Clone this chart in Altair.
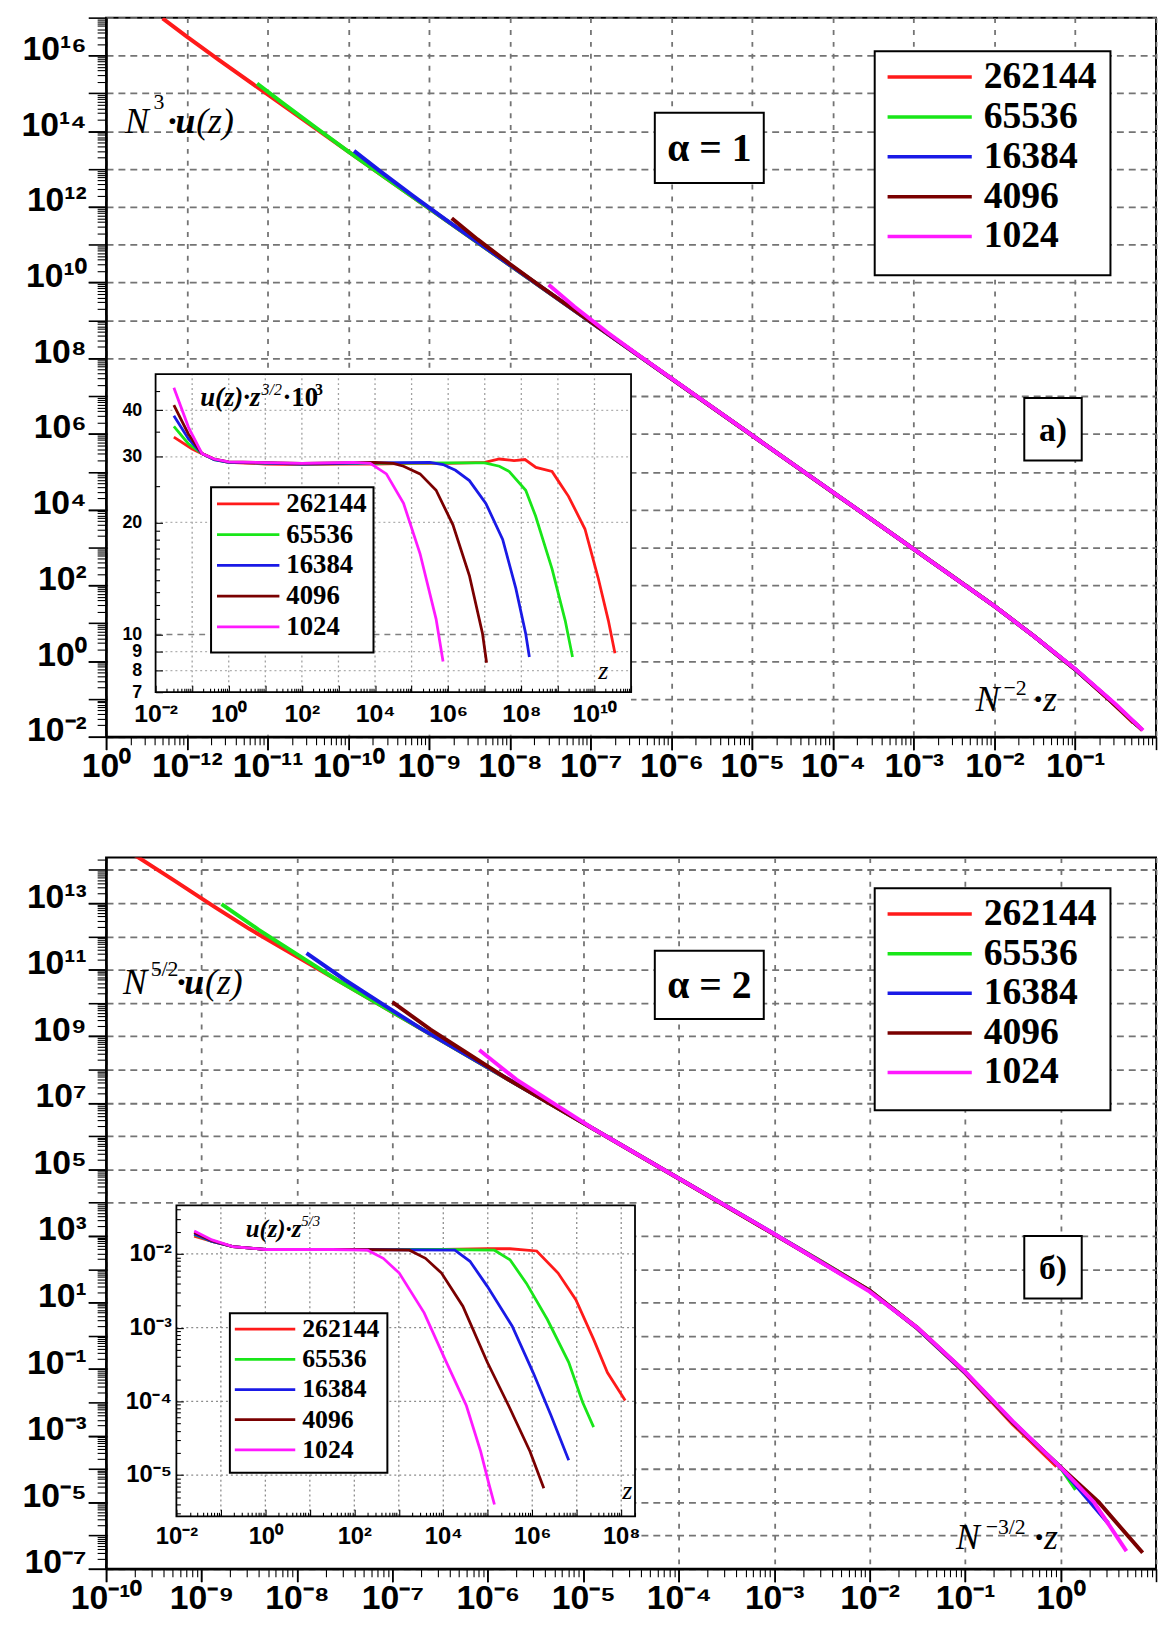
import altair as alt
import pandas as pd

# ------------------------------------------------------------------ data
NS = ["262144", "65536", "16384", "4096", "1024"]
COLORS = ["#ff1a1a", "#19e619", "#1a1ae6", "#7a0000", "#ff19ff"]

# panel a, main plot: log10(N^-2 z) , log10(N^3 u(z))
A_MAIN_LOGX = {
    "262144": [-12.30, -12.0, -11.6, -11.0, -10.0, -8.0, -6.0, -4.0, -2.5, -2.0, -1.5, -1.0, -0.6, -0.28],
    "65536": [-11.13, -10.8, -10.4, -10.0, -8.0, -6.0, -4.0, -2.5, -2.0, -1.5, -1.0, -0.6, -0.23],
    "16384": [-9.93, -9.6, -9.2, -8.8, -7.0, -5.0, -3.0, -2.0, -1.5, -1.0, -0.6, -0.21],
    "4096": [-8.72, -8.4, -8.0, -7.6, -6.0, -4.0, -2.0, -1.5, -1.0, -0.6, -0.17],
    "1024": [-7.52, -7.2, -6.8, -6.4, -5.0, -3.0, -2.0, -1.5, -1.0, -0.5, -0.16],
}
A_MAIN_LOGY = {
    "262144": [16.98, 16.50, 15.88, 14.97, 13.46, 10.46, 7.46, 4.46, 2.21, 1.45, 0.64, -0.22, -0.98, -1.63],
    "65536": [15.26, 14.72, 14.09, 13.46, 10.46, 7.46, 4.46, 2.21, 1.45, 0.64, -0.22, -0.97, -1.71],
    "16384": [13.48, 12.93, 12.29, 11.67, 8.96, 5.96, 2.96, 1.45, 0.64, -0.22, -0.97, -1.74],
    "4096": [11.70, 11.14, 10.49, 9.87, 7.46, 4.46, 1.45, 0.64, -0.22, -0.98, -1.82],
    "1024": [9.94, 9.36, 8.69, 8.07, 5.96, 2.96, 1.45, 0.64, -0.21, -1.14, -1.83],
}
# panel a, inset: log10 z , u(z) z^{3/2} 10^3
A_IN_LOGZ = {
    "262144": [-1.5, -1.0, -0.73, -0.4, 0.0, 1.0, 2.0, 3.0, 4.0, 5.0, 6.0, 7.0, 7.4, 7.8, 8.1, 8.4, 8.84, 9.05, 9.29, 9.74, 10.1, 10.38, 10.56],
    "65536": [-1.5, -1.1, -0.73, -0.4, 0.0, 2.0, 4.0, 6.0, 7.0, 7.4, 7.67, 8.12, 8.39, 8.84, 9.2, 9.4],
    "16384": [-1.5, -1.1, -0.73, -0.4, 0.0, 2.0, 4.0, 5.5, 5.86, 6.2, 6.58, 7.03, 7.49, 7.85, 8.12, 8.22],
    "4096": [-1.5, -1.1, -0.73, -0.4, 0.0, 2.0, 4.0, 4.5, 4.78, 5.23, 5.67, 6.13, 6.58, 6.94, 7.05],
    "1024": [-1.5, -1.1, -0.73, -0.4, 0.0, 2.0, 3.4, 3.87, 4.31, 4.78, 5.23, 5.67, 5.86],
}
A_IN_VAL = {
    "262144": [33.9, 31.5, 30.6, 29.6, 29.0, 28.7, 28.6, 28.7, 28.7, 28.8, 28.8, 29.0, 29.6, 29.3, 29.5, 28.1, 27.4, 25.5, 23.5, 19.2, 14.2, 10.9, 8.9],
    "65536": [36.2, 32.5, 30.6, 29.5, 29.0, 28.7, 28.8, 28.9, 28.9, 28.3, 27.4, 24.4, 20.8, 15.0, 10.9, 8.7],
    "16384": [38.7, 33.5, 30.6, 29.5, 29.0, 28.7, 28.9, 29.0, 28.6, 27.6, 25.9, 22.5, 18.0, 13.3, 10.05, 8.7],
    "4096": [41.3, 34.5, 30.6, 29.6, 29.1, 28.8, 29.0, 28.8, 28.3, 27.0, 24.4, 19.7, 14.4, 10.05, 8.4],
    "1024": [46.0, 36.0, 30.6, 29.6, 29.1, 28.8, 29.0, 28.8, 27.0, 22.5, 16.5, 11.0, 8.46],
}
# panel b, main plot: log10(N^-3/2 z) , log10(N^5/2 u(z))
B_MAIN_LOGX = {
    "262144": [-9.73, -9.3, -8.86, -8.5, -6.0, -4.0, -2.5, -2.0, -1.5, -1.0, -0.5, -0.04],
    "65536": [-8.79, -8.4, -7.95, -7.6, -6.0, -4.0, -2.5, -2.0, -1.5, -1.0, -0.5, 0.0, 0.16],
    "16384": [-7.90, -7.5, -7.05, -6.7, -5.0, -3.0, -2.0, -1.5, -1.0, -0.5, 0.0, 0.5],
    "4096": [-7.00, -6.6, -6.15, -5.8, -4.0, -2.0, -1.5, -1.0, -0.5, 0.0, 0.4, 0.86],
    "1024": [-6.09, -5.7, -5.25, -4.9, -3.0, -2.0, -1.5, -1.0, -0.5, 0.0, 0.35, 0.69],
}
B_MAIN_LOGY = {
    "262144": [14.50, 13.71, 12.88, 12.23, 8.06, 4.73, 2.22, 1.36, 0.22, -1.12, -2.65, -3.92],
    "65536": [12.97, 12.20, 11.37, 10.73, 8.06, 4.73, 2.22, 1.36, 0.23, -1.10, -2.60, -3.95, -4.62],
    "16384": [11.50, 10.70, 9.87, 9.23, 6.40, 3.06, 1.35, 0.23, -1.10, -2.60, -3.95, -5.63],
    "4096": [10.03, 9.20, 8.37, 7.73, 4.73, 1.36, 0.24, -1.09, -2.60, -3.95, -5.00, -6.52],
    "1024": [8.59, 7.70, 6.87, 6.23, 3.06, 1.33, 0.24, -1.08, -2.57, -3.95, -5.00, -6.47],
}
# panel b, inset: log10 z , log10( u(z) z^{5/3} )
B_IN_LOGZ = {
    "262144": [-1.6, -1.2, -0.73, 0.0, 2.0, 4.0, 5.0, 5.5, 6.1, 6.58, 6.98, 7.38, 7.69, 8.09],
    "65536": [-1.6, -1.2, -0.73, 0.0, 2.0, 4.0, 5.15, 5.5, 5.87, 6.34, 6.82, 7.13, 7.38],
    "16384": [-1.6, -1.2, -0.73, 0.0, 2.0, 4.26, 4.6, 4.99, 5.55, 6.02, 6.42, 6.82],
    "4096": [-1.6, -1.2, -0.73, 0.0, 2.0, 3.24, 3.6, 3.96, 4.44, 4.99, 5.47, 5.95, 6.26],
    "1024": [-1.6, -1.2, -0.73, 0.0, 1.5, 2.30, 2.65, 3.01, 3.57, 4.04, 4.52, 4.84, 5.03, 5.15],
}
B_IN_LOGV = {
    "262144": [-1.76, -1.83, -1.90, -1.94, -1.94, -1.94, -1.93, -1.93, -1.96, -2.26, -2.62, -3.16, -3.61, -3.99],
    "65536": [-1.74, -1.83, -1.90, -1.94, -1.94, -1.94, -1.95, -2.08, -2.40, -2.89, -3.47, -4.01, -4.35],
    "16384": [-1.73, -1.83, -1.90, -1.94, -1.94, -1.95, -2.10, -2.44, -2.98, -3.61, -4.19, -4.80],
    "4096": [-1.71, -1.82, -1.90, -1.94, -1.94, -1.95, -2.06, -2.26, -2.71, -3.47, -4.06, -4.68, -5.18],
    "1024": [-1.69, -1.81, -1.90, -1.94, -1.94, -1.95, -2.06, -2.26, -2.80, -3.43, -4.06, -4.68, -5.13, -5.40],
}

# tick labels
A_X_EXP = [-13, -12, -11, -10, -9, -8, -7, -6, -5, -4, -3, -2, -1]
A_X_LABELS = ["10⁰", "10⁻¹²", "10⁻¹¹", "10⁻¹⁰", "10⁻⁹", "10⁻⁸", "10⁻⁷", "10⁻⁶", "10⁻⁵", "10⁻⁴", "10⁻³", "10⁻²", "10⁻¹"]
A_Y_EXP = [-2, 0, 2, 4, 6, 8, 10, 12, 14, 16]
A_Y_LABELS = ["10⁻²", "10⁰", "10²", "10⁴", "10⁶", "10⁸", "10¹⁰", "10¹²", "10¹⁴", "10¹⁶"]
B_X_EXP = [-10, -9, -8, -7, -6, -5, -4, -3, -2, -1, 0]
B_X_LABELS = ["10⁻¹⁰", "10⁻⁹", "10⁻⁸", "10⁻⁷", "10⁻⁶", "10⁻⁵", "10⁻⁴", "10⁻³", "10⁻²", "10⁻¹", "10⁰"]
B_Y_EXP = [-7, -5, -3, -1, 1, 3, 5, 7, 9, 11, 13]
B_Y_LABELS = ["10⁻⁷", "10⁻⁵", "10⁻³", "10⁻¹", "10¹", "10³", "10⁵", "10⁷", "10⁹", "10¹¹", "10¹³"]
AI_X_EXP = [-2, 0, 2, 4, 6, 8, 10]
AI_X_LABELS = ["10⁻²", "10⁰", "10²", "10⁴", "10⁶", "10⁸", "10¹⁰"]
AI_Y_VALUES = [7, 8, 9, 10, 20, 30, 40]
AI_Y_LABELS = ["7", "8", "9", "10", "20", "30", "40"]
BI_X_EXP = [-2, 0, 2, 4, 6, 8]
BI_X_LABELS = ["10⁻²", "10⁰", "10²", "10⁴", "10⁶", "10⁸"]
BI_Y_EXP = [-5, -4, -3, -2]
BI_Y_LABELS = ["10⁻⁵", "10⁻⁴", "10⁻³", "10⁻²"]

# ------------------------------------------------------------------ layout / style
SANS = "Liberation Sans"
SERIF = "Liberation Serif"
W = 1060
HA = 726
HB = 718
A_XDOM = [1e-13, 1e0]
A_YDOM = [1e-2, 1e17]
B_XDOM = [1e-10, 1e1]
B_YDOM = [1e-7, 10 ** 14.37]
AI_XDOM = [1e-2, 1e11]
AI_YDOM = [7, 50]
BI_XDOM = [1e-2, 10 ** 8.31]
BI_YDOM = [10 ** -5.56, 10 ** -1.34]
AI_XR = [50, 530]
AI_YR = [681, 360]
BI_XR = [71, 534]
BI_YR = [665, 351]
GRID = "#747474"

ONE = pd.DataFrame({"a": [0]})


def exp_expr(exps, labels):
    s = "''"
    for e, l in zip(exps, labels):
        s = f"(abs(log(datum.value)/LN10 - ({e})) < 0.01) ? '{l}' : ({s})"
    return s


def val_expr(vals, labels):
    s = "''"
    for v, l in zip(vals, labels):
        s = f"(abs(datum.value - {v}) < 0.001) ? '{l}' : ({s})"
    return s


def logscale(dom, rng=None):
    if rng is None:
        return alt.Scale(type="log", domain=list(dom), nice=False)
    return alt.Scale(type="log", domain=list(dom), nice=False, range=list(rng))


def decades(lo, hi):
    return [10.0 ** e for e in range(lo, hi + 1)]


def minors(lo, hi, dom):
    out = []
    for e in range(lo, hi + 1):
        for k in range(2, 10):
            v = k * 10.0 ** e
            if dom[0] < v < dom[1]:
                out.append(v)
    return out


def label_axis(orient, exps, labels):
    common = dict(orient=orient, values=[10.0 ** e for e in exps], labelExpr=exp_expr(exps, labels),
                  title=None, grid=False, domainColor="black", domainWidth=2.5,
                  tickColor="black", tickWidth=1.6,
                  labelFont=SANS, labelFontWeight="bold", labelFontSize=34, labelColor="black",
                  labelOverlap=False, labelFlush=False, labelBound=False)
    if orient == "bottom":
        return alt.Axis(tickSize=13, labelPadding=0, labelAlign="center", labelBaseline="top", **common)
    return alt.Axis(tickSize=18, labelPadding=2, labelAlign="right", labelBaseline="alphabetic",
                    labelOffset=4, **common)


def plain_axis(orient, values, size, offset=0, zindex=0, grid=False, dash=None, width=1.1):
    kw = dict(orient=orient, values=values, labels=False, domain=False,
              ticks=True, tickSize=size, tickWidth=width, tickColor="black",
              title=None, offset=offset, zindex=zindex, minExtent=0, maxExtent=0)
    if grid:
        kw.update(grid=True, gridColor=GRID, gridDash=dash, gridWidth=1.8)
    else:
        kw.update(grid=False)
    return alt.Axis(**kw)


def curve_layers(xd, yd, xs, ys, width, xaxis=None, yaxis=None):
    out = []
    for i, n in enumerate(NS):
        df = pd.DataFrame({"x": xd[n], "y": yd[n]})
        out.append(
            alt.Chart(df).mark_line(color=COLORS[i], strokeWidth=width, clip=True).encode(
                x=alt.X("x:Q", scale=xs, axis=xaxis if i == 0 else None),
                y=alt.Y("y:Q", scale=ys, axis=yaxis if i == 0 else None),
            )
        )
    return out


def axis_only(xs, ys, xaxis, yaxis, xv, yv):
    df = pd.DataFrame({"x": [xv], "y": [yv]})
    return alt.Chart(df).mark_point(opacity=0, size=1).encode(
        x=alt.X("x:Q", scale=xs, axis=xaxis),
        y=alt.Y("y:Q", scale=ys, axis=yaxis),
    )


def box(x0, x1, y0, y1, sw=2.0, stroke="black"):
    return alt.Chart(ONE).mark_rect(fill="white", stroke=stroke, strokeWidth=sw).encode(
        x=alt.value(x0), x2=alt.value(x1), y=alt.value(y0), y2=alt.value(y1))


def txt(s, x, y, size, style="normal", weight="normal", font=SERIF, align="left", baseline="alphabetic"):
    return alt.Chart(ONE).mark_text(text=s, font=font, fontSize=size, fontStyle=style,
                                    fontWeight=weight, align=align, baseline=baseline,
                                    color="black").encode(x=alt.value(x), y=alt.value(y))


def legend_layers(bx, line_x, label_x, rows, fsize, sw):
    df = pd.DataFrame({"N": NS})
    ysc = alt.Scale(type="point", domain=NS, range=[rows[0], rows[1]], padding=0)
    lines = alt.Chart(df).mark_rule(strokeWidth=sw).encode(
        x=alt.value(line_x[0]), x2=alt.value(line_x[1]),
        y=alt.Y("N:N", scale=ysc, axis=None),
        color=alt.Color("N:N", scale=alt.Scale(domain=NS, range=COLORS), legend=None))
    labels = alt.Chart(df).mark_text(align="left", baseline="middle", font=SERIF, fontWeight="bold",
                                     fontSize=fsize, color="black").encode(
        x=alt.value(label_x), y=alt.Y("N:N", scale=ysc, axis=None), text="N:N")
    return [box(*bx), lines, labels]


def rules(vals, lo, hi, xs, ys, color, dash, width, vertical=True):
    df = pd.DataFrame({"v": vals, "lo": [lo] * len(vals), "hi": [hi] * len(vals)})
    ch = alt.Chart(df).mark_rule(color=color, strokeDash=dash, strokeWidth=width)
    if vertical:
        return ch.encode(x=alt.X("v:Q", scale=xs, axis=None), y=alt.Y("lo:Q", scale=ys, axis=None), y2="hi:Q")
    return ch.encode(y=alt.Y("v:Q", scale=ys, axis=None), x=alt.X("lo:Q", scale=xs, axis=None), x2="hi:Q")


def frame(xdom, ydom, xs, ys):
    df = pd.DataFrame({"x0": [xdom[0]], "x1": [xdom[1]], "y0": [ydom[0]], "y1": [ydom[1]]})
    return alt.Chart(df).mark_rect(fill="white", fillOpacity=0, stroke="black", strokeWidth=1.8).encode(
        x=alt.X("x0:Q", scale=xs, axis=None), x2="x1:Q",
        y=alt.Y("y0:Q", scale=ys, axis=None), y2="y1:Q")


def inset_label_axes(xr, yr, H, xvals, xexpr, yvals, yexpr, xfs, yfs, xpad, ypad):
    xa = alt.Axis(orient="bottom", offset=-(H - yr[0]), values=xvals, labelExpr=xexpr, title=None,
                  grid=False, domain=False, ticks=False, tickSize=0, labelFont=SANS,
                  labelFontWeight="bold", labelFontSize=xfs, labelColor="black", labelPadding=xpad,
                  labelOverlap=False, labelFlush=False, labelBound=False, labelBaseline="top", zindex=2,
                  minExtent=0, maxExtent=0)
    ya = alt.Axis(orient="left", offset=-xr[0], values=yvals, labelExpr=yexpr, title=None,
                  grid=False, domain=False, ticks=False, tickSize=0, labelFont=SANS,
                  labelFontWeight="bold", labelFontSize=yfs, labelColor="black", labelPadding=ypad,
                  labelOverlap=False, labelFlush=False, labelBound=False, labelAlign="right",
                  labelBaseline="middle", zindex=2, minExtent=0, maxExtent=0)
    return xa, ya


def inward_ticks(xs, ys, xr, yr, H, xvals, yvals, size, xv, yv):
    # bottom axis lifted by `size` so its ticks hang down onto the inset's bottom edge,
    # left axis pushed right by `size` so its ticks reach back to the inset's left edge
    xa = plain_axis("bottom", xvals, size, offset=-(H - yr[0] + size), zindex=2)
    ya = plain_axis("left", yvals, size, offset=-(xr[0] + size), zindex=2)
    return axis_only(xs, ys, xa, ya, xv, yv)


# ------------------------------------------------------------------ panel a
axs = logscale(A_XDOM)
ays = logscale(A_YDOM)
aix = logscale(AI_XDOM, AI_XR)
aiy = logscale(AI_YDOM, AI_YR)

la = []
la += curve_layers({n: [10 ** v for v in A_MAIN_LOGX[n]] for n in NS},
                   {n: [10 ** v for v in A_MAIN_LOGY[n]] for n in NS}, axs, ays, 4,
                   label_axis("bottom", A_X_EXP, A_X_LABELS), label_axis("left", A_Y_EXP, A_Y_LABELS))
la.append(axis_only(axs, ays, plain_axis("bottom", decades(-13, 0), 13, grid=True, dash=[5, 7], width=1.6),
                    plain_axis("left", decades(-2, 17), 18, grid=True, dash=[7, 5], width=1.6), 1e-6, 1e5))
la.append(axis_only(axs, ays, plain_axis("bottom", minors(-13, -1, A_XDOM), 8),
                    plain_axis("left", minors(-2, 16, A_YDOM), 9), 1e-6, 1e5))
la.append(box(2, AI_XR[1], AI_YR[1], HA - 2, sw=0, stroke="white"))
la.append(rules(decades(-1, 10), AI_YDOM[0], AI_YDOM[1], aix, aiy, "#a0a0a0", [2, 3], 1.3))
la.append(rules([8, 9, 20, 30, 40], AI_XDOM[0], AI_XDOM[1], aix, aiy, "#b0b0b0", [2, 3], 1.2, vertical=False))
la.append(rules([10], AI_XDOM[0], AI_XDOM[1], aix, aiy, "#808080", [6, 5], 1.6, vertical=False))
la += curve_layers({n: [10 ** v for v in A_IN_LOGZ[n]] for n in NS}, A_IN_VAL, aix, aiy, 2.8)
la.append(frame(AI_XDOM, AI_YDOM, aix, aiy))
xa, ya = inset_label_axes(AI_XR, AI_YR, HA, decades(-2, 10), exp_expr(AI_X_EXP, AI_X_LABELS),
                          AI_Y_VALUES, val_expr(AI_Y_VALUES, AI_Y_LABELS), 25, 18, 10, 14)
la.append(axis_only(aix, aiy, xa, ya, 1.0, 20.0))
la.append(inward_ticks(aix, aiy, AI_XR, AI_YR, HA, decades(-2, 11), AI_Y_VALUES, 7, 1.0, 20.0))
la.append(inward_ticks(aix, aiy, AI_XR, AI_YR, HA, minors(-2, 10, AI_XDOM),
                       [11, 12, 13, 14, 15, 16, 17, 18, 19, 25, 35, 45], 4, 1.0, 20.0))
la += legend_layers((776, 1014, 34, 260), (789, 874), 886, (60, 221), 38, 3.6)
la += legend_layers((106, 270, 474, 641), (112, 175), 182, (491, 615), 27, 2.8)
la.append(box(554, 664, 96, 167))
la.append(txt("α = 1", 609, 133, 40, weight="bold", align="center", baseline="middle"))
la.append(box(927, 985, 384, 447))
la.append(txt("а)", 956, 417, 34, weight="bold", align="center", baseline="middle"))
la += [txt("N", 19, 116, 36, style="italic"), txt("3", 48, 92, 22), txt("·", 61, 116, 36, weight="bold"),
       txt("u", 70, 116, 36, style="italic", weight="bold"), txt("(z)", 91, 116, 36, style="italic")]
la += [txt("N", 878, 700, 36, style="italic"), txt("−2", 906, 684, 22), txt("·", 935, 700, 36, weight="bold"),
       txt("z", 946, 700, 36, style="italic")]
la += [txt("u(z)·z", 95, 392, 27, style="italic", weight="bold"), txt("3/2", 157, 381, 16, style="italic"),
       txt("·10", 178, 392, 27, weight="bold"), txt("3", 211, 381, 16, weight="bold")]
la.append(txt("z", 497, 668, 26, style="italic"))

panel_a = alt.layer(*la).resolve_scale(x="independent", y="independent").properties(width=W, height=HA)

# ------------------------------------------------------------------ panel b
bxs = logscale(B_XDOM)
bys = logscale(B_YDOM)
bix = logscale(BI_XDOM, BI_XR)
biy = logscale(BI_YDOM, BI_YR)

lb = []
lb += curve_layers({n: [10 ** v for v in B_MAIN_LOGX[n]] for n in NS},
                   {n: [10 ** v for v in B_MAIN_LOGY[n]] for n in NS}, bxs, bys, 4,
                   label_axis("bottom", B_X_EXP, B_X_LABELS), label_axis("left", B_Y_EXP, B_Y_LABELS))
lb.append(axis_only(bxs, bys, plain_axis("bottom", decades(-10, 1), 13, grid=True, dash=[5, 7], width=1.6),
                    plain_axis("left", decades(-7, 14), 18, grid=True, dash=[7, 5], width=1.6), 1e-5, 1e5))
lb.append(axis_only(bxs, bys, plain_axis("bottom", minors(-10, 0, B_XDOM), 8),
                    plain_axis("left", minors(-7, 14, B_YDOM), 9), 1e-5, 1e5))
lb.append(box(2, BI_XR[1], BI_YR[1], HB - 2, sw=0, stroke="white"))
lb.append(rules(decades(-1, 8), BI_YDOM[0], BI_YDOM[1], bix, biy, "#8c8c8c", [2, 3], 1.3))
lb.append(rules(decades(-5, -2), BI_XDOM[0], BI_XDOM[1], bix, biy, "#8c8c8c", [2, 3], 1.3, vertical=False))
lb += curve_layers({n: [10 ** v for v in B_IN_LOGZ[n]] for n in NS},
                   {n: [10 ** v for v in B_IN_LOGV[n]] for n in NS}, bix, biy, 2.8)
lb.append(frame(BI_XDOM, BI_YDOM, bix, biy))
xb, yb = inset_label_axes(BI_XR, BI_YR, HB, decades(-2, 8), exp_expr(BI_X_EXP, BI_X_LABELS),
                          decades(-5, -2), exp_expr(BI_Y_EXP, BI_Y_LABELS), 24, 24, 8, 5)
lb.append(axis_only(bix, biy, xb, yb, 1.0, 1e-3))
lb.append(inward_ticks(bix, biy, BI_XR, BI_YR, HB, decades(-2, 8), decades(-5, -2), 7, 1.0, 1e-3))
lb.append(inward_ticks(bix, biy, BI_XR, BI_YR, HB, minors(-2, 8, BI_XDOM), minors(-6, -2, BI_YDOM), 4, 1.0, 1e-3))
lb += legend_layers((776, 1014, 31, 255), (789, 874), 886, (57, 217), 38, 3.6)
lb += legend_layers((125, 284, 460, 621), (130, 191), 198, (476, 598), 26, 2.8)
lb.append(box(554, 664, 94, 163))
lb.append(txt("α = 2", 609, 130, 40, weight="bold", align="center", baseline="middle"))
lb.append(box(927, 985, 382, 445))
lb.append(txt("б)", 956, 415, 34, weight="bold", align="center", baseline="middle"))
lb += [txt("N", 17, 138, 36, style="italic"), txt("5/2", 45, 120, 22), txt("·", 70, 138, 36, weight="bold"),
       txt("u", 79, 138, 36, style="italic", weight="bold"), txt("(z)", 100, 138, 36, style="italic")]
lb += [txt("N", 858, 698, 36, style="italic"), txt("−3/2", 888, 683, 22), txt("·", 936, 698, 36, weight="bold"),
       txt("z", 947, 698, 36, style="italic")]
lb += [txt("u(z)·z", 141, 383, 25, style="italic", weight="bold"), txt("5/3", 197, 372, 15, style="italic")]
lb.append(txt("z", 521, 648, 26, style="italic"))

panel_b = alt.layer(*lb).resolve_scale(x="independent", y="independent").properties(width=W, height=HB)

chart = alt.vconcat(panel_a, panel_b, spacing=73).properties(
    padding={"left": 12, "top": 0, "right": 0, "bottom": 0}, background="white"
).configure_view(stroke="black", strokeWidth=2)

chart.save("out.html", embed_options={"renderer": "svg", "actions": False})
